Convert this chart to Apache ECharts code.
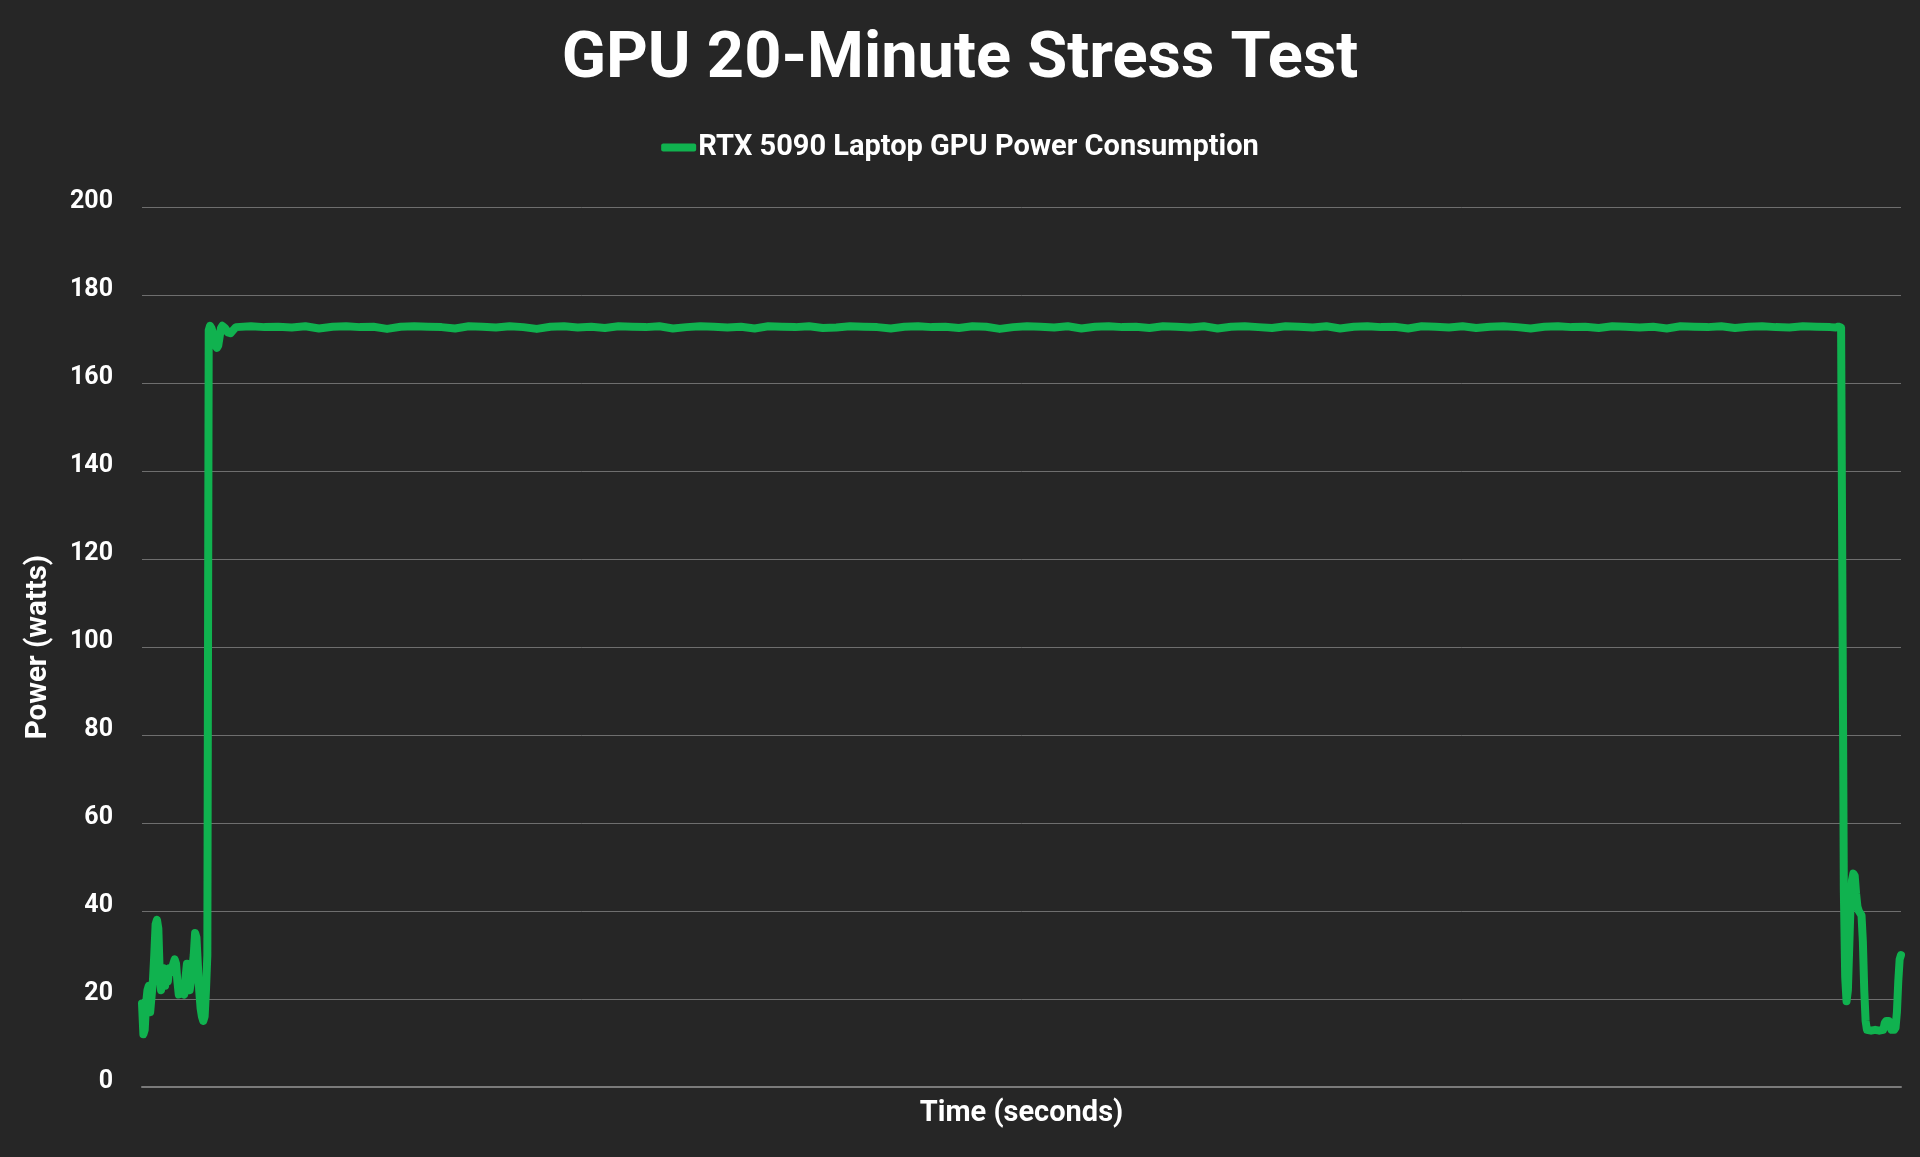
<!DOCTYPE html>
<html>
<head>
<meta charset="utf-8">
<title>GPU 20-Minute Stress Test</title>
<script src="https://cdn.jsdelivr.net/npm/echarts@6/dist/echarts.min.js"></script>
<style>
  html, body { margin: 0; padding: 0; background: #262626; }
  #main { width: 1920px; height: 1157px; }
</style>
</head>
<body>
<div id="main"></div>
<script>
// 起步阶段 (秒, 瓦)
var startTime = [0, 1, 2, 3, 4, 5, 6, 7, 8, 9, 10, 11, 12, 13, 14, 15, 16, 17, 18, 19,
  20, 21, 22, 23, 24, 25, 26, 27, 28, 29, 30, 31, 32, 33, 34, 35, 36, 37, 38, 39,
  40, 41, 42, 43, 44, 45, 46, 47, 48, 49, 50, 51, 52, 53, 54, 55, 56, 57, 58, 59,
  60, 61, 62, 63, 64, 65, 66, 67, 68, 69];
var startPower = [19, 12, 13, 19, 22, 23, 17, 17, 24, 30, 37, 38, 36, 26, 22, 25, 27, 23, 26, 24,
  27, 26, 27, 28, 29, 28, 24, 21, 21, 23, 22, 21, 25, 28, 26, 22, 24, 27, 30, 35,
  34, 28, 22, 18, 16, 15, 16, 22, 30, 172, 173, 172.5, 171.5, 170, 168.5, 168, 168.5, 170.5, 172.5, 173,
  173, 172.5, 172, 171.5, 171.2, 171.3, 171.6, 172, 172.4, 172.7];

// 满载阶段
var loadTime = [70, 80, 90, 100, 110, 120, 130, 140, 150, 160, 170, 180, 190, 200, 210, 220, 230, 240, 250, 260,
  270, 280, 290, 300, 310, 320, 330, 340, 350, 360, 370, 380, 390, 400, 410, 420, 430, 440, 450, 460,
  470, 480, 490, 500, 510, 520, 530, 540, 550, 560, 570, 580, 590, 600, 610, 620, 630, 640, 650, 660,
  670, 680, 690, 700, 710, 720, 730, 740, 750, 760, 770, 780, 790, 800, 810, 820, 830, 840, 850, 860,
  870, 880, 890, 900, 910, 920, 930, 940, 950, 960, 970, 980, 990, 1000, 1010, 1020, 1030, 1040, 1050, 1060,
  1070, 1080, 1090, 1100, 1110, 1120, 1130, 1140, 1150, 1160, 1170, 1180, 1190, 1200, 1210, 1220, 1230, 1240];
var loadPower = [172.8, 172.9, 172.7, 172.8, 172.6, 172.9, 172.4, 172.8, 172.9, 172.7, 172.8, 172.3, 172.8, 172.9, 172.8, 172.7, 172.4, 172.9, 172.8, 172.6,
  172.9, 172.7, 172.3, 172.8, 172.9, 172.6, 172.8, 172.5, 172.9, 172.8, 172.7, 172.9, 172.4, 172.7, 172.9, 172.8, 172.6, 172.8, 172.4, 172.9,
  172.8, 172.7, 172.9, 172.5, 172.6, 172.9, 172.8, 172.7, 172.4, 172.8, 172.9, 172.7, 172.8, 172.5, 172.9, 172.8, 172.3, 172.7, 172.9, 172.8,
  172.6, 172.9, 172.4, 172.8, 172.9, 172.7, 172.8, 172.5, 172.9, 172.8, 172.6, 172.9, 172.4, 172.8, 172.9, 172.7, 172.5, 172.9, 172.8, 172.6,
  172.9, 172.4, 172.8, 172.9, 172.7, 172.8, 172.4, 172.9, 172.8, 172.6, 172.9, 172.5, 172.8, 172.9, 172.7, 172.4, 172.8, 172.9, 172.7, 172.8,
  172.5, 172.9, 172.8, 172.6, 172.8, 172.4, 172.9, 172.8, 172.7, 172.9, 172.5, 172.8, 172.9, 172.7, 172.6, 172.9, 172.8, 172.7];

// 结束阶段
var endTime = [1244, 1246, 1248, 1249, 1250, 1251, 1252, 1253, 1254, 1255, 1256, 1257, 1258, 1259, 1260,
  1261, 1262, 1263, 1264, 1265, 1266, 1267, 1270, 1273, 1276, 1279, 1280, 1281, 1283, 1284,
  1285, 1287, 1288, 1289, 1290, 1291, 1292];
var endPower = [172.6, 172.8, 172.6, 110, 45, 25, 19.5, 22, 32, 42, 47, 48.5, 48, 44, 41,
  40, 40, 39, 33, 22, 15, 13, 12.8, 13, 12.8, 13, 14.5, 15, 15, 14,
  13, 13, 13.5, 17, 24, 29, 30];

// 坐标轴刻度
var yTicks = [0, 20, 40, 60, 80, 100, 120, 140, 160, 180, 200];

var seriesName = 'RTX 5090 Laptop GPU Power Consumption';
var lineColor = '#10B24F';

// 拼成 [时间, 功率] 点
var allTime = startTime.concat(loadTime, endTime);
var allPower = startPower.concat(loadPower, endPower);
var points = allTime.map(function (t, i) { return [t, allPower[i]]; });

var myChart = echarts.init(document.getElementById('main'));
var option = {
  backgroundColor: '#262626',
  textStyle: { fontFamily: 'Roboto' },
  title: {
    text: 'GPU 20-Minute Stress Test',
    left: 'center',
    top: 23,
    textStyle: { color: '#ffffff', fontSize: 65, fontWeight: 'bold', fontFamily: 'Roboto' }
  },
  legend: {
    data: [seriesName],
    left: 'center',
    top: 128,
    icon: 'roundRect',
    itemWidth: 35,
    itemHeight: 8,
    itemGap: 10,
    textStyle: { color: '#ffffff', fontSize: 29, fontWeight: 'bold', fontFamily: 'Roboto', padding: [0, 0, 0, -3] }
  },
  grid: {
    left: 142,
    right: 19,
    top: 207,
    bottom: 70
  },
  xAxis: {
    type: 'value',
    min: 0,
    max: allTime[allTime.length - 1],
    name: 'Time (seconds)',
    nameLocation: 'middle',
    nameGap: 12,
    nameTextStyle: { color: '#ffffff', fontSize: 29, fontWeight: 'bold', fontFamily: 'Roboto', verticalAlign: 'top' },
    axisLine: { show: true, lineStyle: { color: '#7a7a7a', width: 2 } },
    axisTick: { show: false },
    axisLabel: { show: false },
    splitLine: { show: false }
  },
  yAxis: {
    type: 'value',
    min: yTicks[0],
    max: yTicks[yTicks.length - 1],
    interval: yTicks[1] - yTicks[0],
    name: 'Power (watts)',
    nameLocation: 'middle',
    nameRotate: 90,
    nameGap: 88,
    nameTextStyle: { color: '#ffffff', fontSize: 29.5, fontWeight: 'bold', fontFamily: 'Roboto' },
    axisLine: { show: false },
    axisTick: { show: false },
    axisLabel: { color: '#ffffff', fontSize: 25, fontWeight: 'bold', fontFamily: 'Roboto', margin: 29, verticalAlign: 'bottom', lineHeight: 10 },
    splitLine: { show: true, lineStyle: { color: '#6e6e6e', width: 1 } }
  },
  series: [{
    name: seriesName,
    type: 'line',
    data: points,
    symbol: 'none',
    smooth: false,
    color: lineColor,
    lineStyle: { color: lineColor, width: 8, cap: 'round', join: 'round' },
    animation: false
  }]
};
myChart.setOption(option);
</script>
</body>
</html>
